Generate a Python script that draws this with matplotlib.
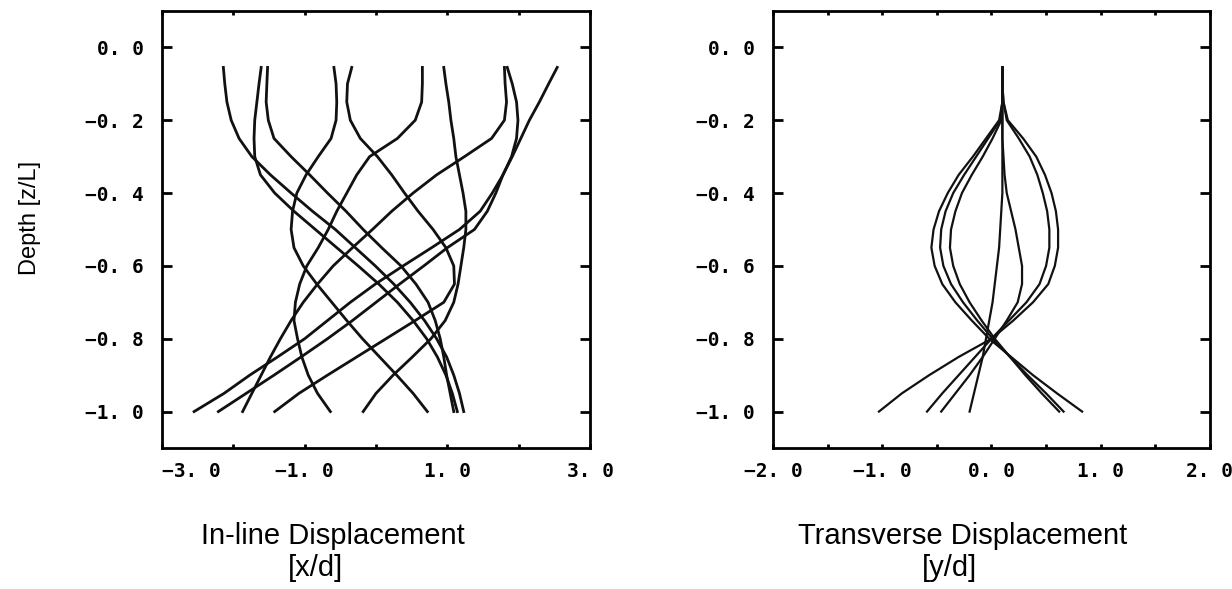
import matplotlib
matplotlib.use("Agg")
import matplotlib.pyplot as plt

# === Data (displacement at each depth z/L) ===
depth = [-0.055, -0.1, -0.15, -0.2, -0.25, -0.3, -0.35, -0.4, -0.45, -0.5,
         -0.55, -0.6, -0.65, -0.7, -0.75, -0.8, -0.85, -0.9, -0.95, -1.0]

# In-line displacement [x/d], one list per time instant
inline_1 = [2.54, 2.42, 2.29, 2.15, 2.03, 1.91, 1.78, 1.63, 1.46, 1.17,
            0.78, 0.38, -0.01, -0.36, -0.68, -1.00, -1.38, -1.77, -2.13, -2.55]
inline_2 = [1.84, 1.91, 1.97, 1.99, 1.97, 1.90, 1.78, 1.68, 1.56, 1.38,
            1.00, 0.67, 0.33, 0.00, -0.33, -0.68, -1.05, -1.43, -1.82, -2.21]
inline_3 = [1.80, 1.81, 1.83, 1.80, 1.62, 1.24, 0.85, 0.52, 0.22, -0.05,
            -0.33, -0.60, -0.82, -1.02, -1.19, -1.34, -1.48, -1.61, -1.74, -1.87]
inline_4 = [0.95, 0.98, 1.02, 1.05, 1.09, 1.12, 1.17, 1.22, 1.26, 1.26,
            1.23, 1.19, 1.15, 1.09, 0.97, 0.77, 0.51, 0.24, 0.00, -0.18]
inline_5 = [-0.34, -0.40, -0.41, -0.36, -0.22, 0.02, 0.22, 0.40, 0.59, 0.80,
            0.98, 1.09, 1.10, 0.95, 0.55, 0.14, -0.27, -0.68, -1.08, -1.42]
inline_6 = [0.65, 0.65, 0.64, 0.55, 0.30, -0.09, -0.27, -0.41, -0.55, -0.67,
            -0.81, -0.97, -1.07, -1.13, -1.15, -1.10, -1.04, -0.95, -0.82, -0.64]
inline_7 = [-0.59, -0.56, -0.55, -0.56, -0.63, -0.81, -0.98, -1.11, -1.17, -1.19,
            -1.15, -1.02, -0.83, -0.62, -0.41, -0.19, 0.05, 0.29, 0.52, 0.72]
inline_8 = [-1.52, -1.53, -1.54, -1.51, -1.43, -1.19, -0.93, -0.68, -0.42, -0.18,
            0.08, 0.35, 0.56, 0.73, 0.83, 0.90, 0.95, 0.99, 1.04, 1.09]
inline_9 = [-2.14, -2.12, -2.09, -2.03, -1.92, -1.74, -1.48, -1.19, -0.89, -0.57,
            -0.29, -0.01, 0.25, 0.48, 0.68, 0.85, 0.99, 1.09, 1.17, 1.23]
inline_10 = [-1.61, -1.64, -1.67, -1.70, -1.71, -1.70, -1.62, -1.42, -1.15, -0.85,
             -0.55, -0.25, 0.04, 0.30, 0.52, 0.71, 0.86, 0.98, 1.07, 1.14]

# Transverse displacement [y/d]
trans_1 = [0.10, 0.10, 0.10, 0.07, -0.05, -0.17, -0.30, -0.40, -0.48, -0.53,
           -0.55, -0.52, -0.45, -0.33, -0.18, -0.02, 0.18, 0.38, 0.60, 0.83]
trans_2 = [0.10, 0.10, 0.10, 0.08, -0.03, -0.14, -0.25, -0.35, -0.42, -0.46,
           -0.47, -0.44, -0.37, -0.26, -0.13, 0.01, 0.17, 0.33, 0.50, 0.66]
trans_3 = [0.10, 0.10, 0.10, 0.09, 0.01, -0.08, -0.18, -0.27, -0.33, -0.37,
           -0.38, -0.35, -0.29, -0.20, -0.09, 0.03, 0.17, 0.31, 0.46, 0.62]
trans_4 = [0.10, 0.10, 0.11, 0.15, 0.29, 0.41, 0.49, 0.55, 0.59, 0.61,
           0.61, 0.58, 0.52, 0.38, 0.20, 0.00, -0.30, -0.57, -0.82, -1.03]
trans_5 = [0.10, 0.10, 0.11, 0.14, 0.25, 0.35, 0.42, 0.47, 0.51, 0.53,
           0.53, 0.50, 0.44, 0.32, 0.16, 0.00, -0.15, -0.30, -0.45, -0.59]
trans_6 = [0.10, 0.10, 0.10, 0.10, 0.10, 0.11, 0.12, 0.14, 0.18, 0.22,
           0.25, 0.28, 0.28, 0.24, 0.14, 0.03, -0.08, -0.20, -0.33, -0.46]
trans_7 = [0.10, 0.10, 0.10, 0.10, 0.10, 0.10, 0.10, 0.10, 0.09, 0.08,
           0.07, 0.05, 0.03, 0.01, -0.02, -0.05, -0.08, -0.12, -0.16, -0.20]

inline_curves = [inline_1, inline_2, inline_3, inline_4, inline_5,
                 inline_6, inline_7, inline_8, inline_9, inline_10]
trans_curves = [trans_1, trans_2, trans_3, trans_4, trans_5, trans_6, trans_7]

depth_ticks = [0.0, -0.2, -0.4, -0.6, -0.8, -1.0]
depth_labels = ["0. 0", "\u22120. 2", "\u22120. 4", "\u22120. 6", "\u22120. 8", "\u22121. 0"]

inline_ticks = [-3, -1, 1, 3]
inline_labels = ["\u22123. 0", "\u22121. 0", "1. 0", "3. 0"]
inline_minor = [-2, 0, 2]

trans_ticks = [-2, -1, 0, 1, 2]
trans_labels = ["\u22122. 0", "\u22121. 0", "0. 0", "1. 0", "2. 0"]
trans_minor = [-1.5, -0.5, 0.5, 1.5]

# === Figure ===
fig = plt.figure(figsize=(12.32, 5.89), dpi=100)
ax1 = fig.add_axes([0.1315, 0.2394, 0.3474, 0.7420])
ax2 = fig.add_axes([0.6274, 0.2394, 0.3547, 0.7420])

tick_font = dict(family="DejaVu Sans Mono", weight="bold", size=14)


def style_axes(ax, xlim, ticks, labels, minor):
    ax.set_xlim(*xlim)
    ax.set_ylim(-1.1, 0.1)
    ax.set_yticks(depth_ticks)
    ax.set_yticklabels(depth_labels, fontdict=tick_font)
    ax.set_xticks(ticks)
    ax.set_xticklabels(labels, fontdict=tick_font)
    ax.set_xticks(minor, minor=True)
    ax.tick_params(axis="y", direction="in", length=7, width=2,
                   left=True, right=True, pad=13)
    ax.tick_params(axis="x", which="both", direction="in", length=3, width=2,
                   top=True, bottom=True, pad=10)
    for sp in ax.spines.values():
        sp.set_linewidth(2)


for xs in inline_curves:
    ax1.plot(xs, depth, color="#111111", lw=2.0, solid_joinstyle="round")
for ys in trans_curves:
    ax2.plot(ys, depth, color="#111111", lw=1.6, solid_joinstyle="round")

style_axes(ax1, (-3, 3), inline_ticks, inline_labels, inline_minor)
style_axes(ax2, (-2, 2), trans_ticks, trans_labels, trans_minor)
ax1.get_xticklabels()[0].set_horizontalalignment("left")

# === Axis titles ===
label_font = "Liberation Sans"
fig.text(0.024, 0.63, "Depth [z/L]", rotation=90, ha="center", va="center",
         fontsize=17, family=label_font)
fig.text(0.27, 0.090, "In-line Displacement", ha="center", va="center",
         fontsize=21, family=label_font)
fig.text(0.256, 0.036, "[x/d]", ha="center", va="center",
         fontsize=21, family=label_font)
fig.text(0.781, 0.090, "Transverse Displacement", ha="center", va="center",
         fontsize=21, family=label_font)
fig.text(0.771, 0.036, "[y/d]", ha="center", va="center",
         fontsize=21, family=label_font)

fig.savefig("out.png", dpi=100)
